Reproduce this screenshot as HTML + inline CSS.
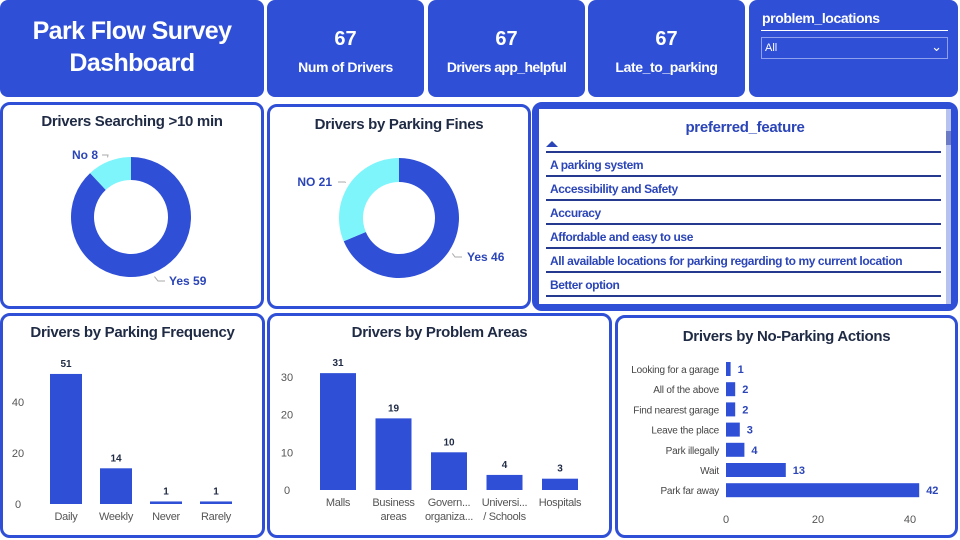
<!DOCTYPE html>
<html><head><meta charset="utf-8">
<style>
*{margin:0;padding:0;box-sizing:border-box}
body{width:960px;height:540px;background:#fff;font-family:"Liberation Sans",sans-serif;position:relative;overflow:hidden}
.card{position:absolute;background:#2f4fd6;border-radius:8px;color:#fff;text-align:center;font-weight:bold;white-space:nowrap}
.panel{position:absolute;border:3px solid #2f4fd6;border-radius:10px;background:#fff}
.ttl{position:absolute;left:0;right:0;text-align:center;font-weight:bold;color:#1f2a44;font-size:15px;letter-spacing:-0.3px;white-space:nowrap}
svg{position:absolute;left:0;top:0}
.row{position:absolute;left:7px;right:10px;height:24px;border-bottom:2px solid #253a8f;color:#2b45b8;font-weight:bold;font-size:12px;letter-spacing:-0.4px;padding:5px 4px;white-space:nowrap;overflow:hidden}
</style></head><body>
<div class="card" style="left:0;top:0;width:264px;height:97px;font-size:25px;letter-spacing:-0.6px;line-height:32px;padding-top:15px">Park Flow Survey<br>Dashboard</div>
<div class="card" style="left:267px;top:0;width:157px;height:97px;padding-top:28px"><div style="font-size:20px">67</div><div style="font-size:14px;letter-spacing:-0.4px;margin-top:8px">Num of Drivers</div></div>
<div class="card" style="left:428px;top:0;width:157px;height:97px;padding-top:28px"><div style="font-size:20px">67</div><div style="font-size:14px;letter-spacing:-0.6px;margin-top:8px">Drivers app_helpful</div></div>
<div class="card" style="left:588px;top:0;width:157px;height:97px;padding-top:28px"><div style="font-size:20px">67</div><div style="font-size:14px;letter-spacing:-0.4px;margin-top:8px">Late_to_parking</div></div>
<div class="card" style="left:749px;top:0;width:209px;height:97px;text-align:left">
 <div style="position:absolute;left:13px;top:10px;font-size:14px;letter-spacing:-0.4px">problem_locations</div>
 <div style="position:absolute;left:12px;right:10px;top:30px;border-top:1.5px solid #fff"></div>
 <div style="position:absolute;left:12px;right:10px;top:37px;height:22px;border:1px solid #8fa0f0;font-size:11px;font-weight:normal;padding:4px 3px">All<span style="position:absolute;right:5px;top:1px;font-size:13px">&#8964;</span></div>
</div>

<div class="panel" style="left:0;top:102px;width:264px;height:207px"><div class="ttl" style="top:8px">Drivers Searching &gt;10 min</div></div>
<div class="panel" style="left:267px;top:104px;width:264px;height:205px"><div class="ttl" style="top:9px">Drivers by Parking Fines</div></div>
<div class="panel" style="left:532px;top:102px;width:426px;height:209px;border-width:4px;background:#2f4fd6">
 <div style="position:absolute;left:3px;top:3px;right:3px;bottom:3px;background:#fff">
  <div class="ttl" style="top:10px;color:#2b45b8;font-size:15px">preferred_feature</div>
  <div style="position:absolute;left:7px;top:32px;width:0;height:0;border-left:6px solid transparent;border-right:6px solid transparent;border-bottom:6px solid #2b45b8"></div>
  <div style="position:absolute;left:7px;right:10px;top:42px;border-bottom:2px solid #253a8f"></div>
  <div class="row" style="top:44px">A parking system</div>
  <div class="row" style="top:68px">Accessibility and Safety</div>
  <div class="row" style="top:92px">Accuracy</div>
  <div class="row" style="top:116px">Affordable and easy to use</div>
  <div class="row" style="top:140px">All available locations for parking regarding to my current location</div>
  <div class="row" style="top:164px">Better option</div>
  <div style="position:absolute;right:0;top:0;width:5px;height:100%;background:#b8c2ee"><div style="height:14px;margin-top:22px;background:#6b7cc4"></div></div>
 </div>
</div>

<div class="panel" style="left:0;top:313px;width:265px;height:225px"><div class="ttl" style="top:8px">Drivers by Parking Frequency</div></div>
<div class="panel" style="left:267px;top:313px;width:345px;height:225px"><div class="ttl" style="top:8px">Drivers by Problem Areas</div></div>
<div class="panel" style="left:615px;top:315px;width:343px;height:223px"><div class="ttl" style="top:10px">Drivers by No-Parking Actions</div></div>

<svg id="chart" width="960" height="540" font-family="Liberation Sans, sans-serif"></svg>
<script>
const donut1Labels=["Yes","No"];const donut1Values=[59,8];
const donut2Labels=["Yes","NO"];const donut2Values=[46,21];
const freqCats=["Daily","Weekly","Never","Rarely"];const freqVals=[51,14,1,1];const freqTicks=[0,20,40];
const areaCats=[["Malls"],["Business","areas"],["Govern...","organiza..."],["Universi...","/ Schools"],["Hospitals"]];const areaVals=[31,19,10,4,3];const areaTicks=[0,10,20,30];
const actCats=["Looking for a garage","All of the above","Find nearest garage","Leave the place","Park illegally","Wait","Park far away"];const actVals=[1,2,2,3,4,13,42];const actTicks=[0,20,40];
const NS="http://www.w3.org/2000/svg";const svg=document.getElementById('chart');
const BLUE="#2f4fd6",CYAN="#7ef5fb";
function mk(t,a,txt){const e=document.createElementNS(NS,t);for(const k in a)e.setAttribute(k,a[k]);if(txt!=null)e.textContent=txt;svg.appendChild(e);return e;}
function donut(cx,cy,R,r,vals,labels,name,labelPos){
 const tot=vals.reduce((a,b)=>a+b,0);let a0=-Math.PI/2;const cols=[BLUE,CYAN];
 vals.forEach((v,i)=>{const a1=a0+v/tot*2*Math.PI;const lg=(a1-a0)>Math.PI?1:0;
  const p=`M${cx+R*Math.cos(a0)},${cy+R*Math.sin(a0)} A${R},${R} 0 ${lg} 1 ${cx+R*Math.cos(a1)},${cy+R*Math.sin(a1)} L${cx+r*Math.cos(a1)},${cy+r*Math.sin(a1)} A${r},${r} 0 ${lg} 0 ${cx+r*Math.cos(a0)},${cy+r*Math.sin(a0)} Z`;
  const s=mk('path',{d:p,fill:cols[i]});
  
  
  const am=(a0+a1)/2;const ex=cx+(R+4)*Math.cos(am),ey=cy+(R+4)*Math.sin(am);const lp=labelPos[i];
  const ln=mk('polyline',{points:`${ex},${ey} ${lp[0]},${lp[1]} ${lp[2]},${lp[1]}`,fill:'none',stroke:'#aaa'});
  
  
  const t=mk('text',{x:lp[3],y:lp[1]+4,'font-size':12,'font-weight':'bold',fill:'#2b45b8','text-anchor':lp[4]},labels[i]+' '+v);
  
  
  a0=a1;});
}
donut(131,217,60,37,donut1Values,donut1Labels,'searching',[[158,281,165,169,'start'],[108,155,102,98,'end']]);
donut(399,218,60,36,donut2Values,donut2Labels,'fines',[[455,257,462,467,'start'],[345,182,338,332,'end']]);
function vbars(cats,vals,ticks,base,pxu,x0,step,bw,tickX,name){
 ticks.forEach(t=>{const e=mk('text',{x:tickX,y:base-t*pxu+4,'font-size':11,fill:'#555','text-anchor':'middle'},t);
  
  });
 cats.forEach((c,i)=>{const h=Math.max(vals[i]*pxu,2);const x=x0+i*step;
  const b=mk('rect',{x:x,y:base-h,width:bw,height:h,fill:BLUE});
  
  
  const v=mk('text',{x:x+bw/2,y:base-h-7,'font-size':10,'font-weight':'bold',fill:'#1f2a44','text-anchor':'middle'},vals[i]);
  
  
  const lines=Array.isArray(c)?c:[c];
  lines.forEach((l,j)=>{const e=mk('text',{x:x+bw/2,y:base+16+j*14,'font-size':11,fill:'#555','text-anchor':'middle','letter-spacing':'-0.3'},l);
   
   });
 });
}
vbars(freqCats,freqVals,freqTicks,504,2.55,50,50,32,18,'frequency');
vbars(areaCats,areaVals,areaTicks,490,3.77,320,55.5,36,287,'areas');
const hx0=726,hpx=4.6,hy0=369,hstep=20.2,hbh=14;
actTicks.forEach(t=>{const e=mk('text',{x:hx0+t*hpx,y:523,'font-size':11,fill:'#555','text-anchor':'middle'},t);
 
 });
actCats.forEach((c,i)=>{const y=hy0+i*hstep;const w=actVals[i]*hpx;
 const b=mk('rect',{x:hx0,y:y-hbh/2,width:w,height:hbh,fill:BLUE});
 
 
 const l=mk('text',{x:719,y:y+4,'font-size':10,fill:'#444','text-anchor':'end','letter-spacing':'-0.2'},c);
 
 
 const v=mk('text',{x:hx0+w+7,y:y+4,'font-size':11,'font-weight':'bold',fill:'#2b45b8'},actVals[i]);
 
 
});
</script>
</body></html>
